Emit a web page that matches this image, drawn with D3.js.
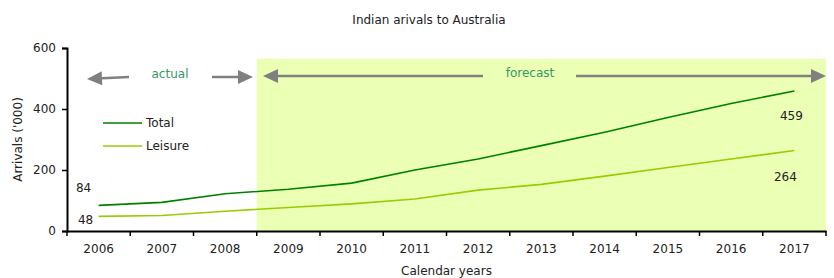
<!DOCTYPE html>
<html><head><meta charset="utf-8">
<script src="https://cdn.jsdelivr.net/npm/d3@7"></script>
<style>body{margin:0;background:#fff}svg{display:block}text{font-family:"DejaVu Sans",Verdana,sans-serif}</style>
</head><body>
<script>
const years = ["2006","2007","2008","2009","2010","2011","2012","2013","2014","2015","2016","2017"];
const totalValues = [84, 94, 122, 137, 157, 200, 236, 280, 324, 372, 418, 459];
const leisureValues = [48, 51, 65, 77, 89, 105, 134, 153, 180, 208, 236, 264];
const yTicks = [0, 200, 400, 600];
const forecastStart = "2009";

const W = 834, H = 278;
const m = {l: 67, r: 8, t: 48, b: 47};
const svg = d3.select("body").append("svg").attr("width", W).attr("height", H);

const x = d3.scaleBand().domain(years).range([m.l, W - m.r]).padding(0);
const y = d3.scaleLinear().domain([0, 600]).range([H - m.b, m.t]);

// forecast shading
const fx0 = x(forecastStart);
svg.append("rect").attr("x", fx0).attr("y", y(565)).attr("width", x.range()[1] - fx0)
  .attr("height", y(0) - y(565)).attr("fill", "#ebffb5");

// lines
const line = d3.line().x((d, i) => x(years[i]) + x.bandwidth() / 2).y(d => y(d));
svg.append("path").datum(leisureValues).attr("d", line).attr("fill", "none")
  .attr("stroke", "#99cc00").attr("stroke-width", 1.6);
svg.append("path").datum(totalValues).attr("d", line).attr("fill", "none")
  .attr("stroke", "#008000").attr("stroke-width", 1.6);

// axes
const yAxis = svg.append("g").attr("transform", `translate(${m.l},0)`)
  .call(d3.axisLeft(y).tickValues(yTicks).tickSize(5).tickPadding(6));
const xAxis = svg.append("g").attr("transform", `translate(0,${y(0)})`)
  .call(d3.axisBottom(x).tickSize(0).tickPadding(13));
[yAxis, xAxis].forEach(g => {
  g.select(".domain").attr("stroke", "#000").attr("stroke-width", 2);
  g.selectAll(".tick line").attr("stroke", "#000").attr("stroke-width", 1.5);
  g.selectAll("text").attr("font-size", 12).attr("fill", "#222").attr("font-family", "DejaVu Sans, Verdana, sans-serif");
});
// x boundary ticks
const bounds = years.map(d => x(d)).concat([x.range()[1]]);
svg.append("g").selectAll("line").data(bounds).join("line")
  .attr("x1", d => d).attr("x2", d => d).attr("y1", y(0)).attr("y2", y(0) + 5)
  .attr("stroke", "#000").attr("stroke-width", 1.5);

// title & axis labels
svg.append("text").attr("x", 429).attr("y", 24).attr("text-anchor", "middle")
  .attr("font-size", 12).attr("fill", "#222").text("Indian arivals to Australia");
svg.append("text").attr("x", (m.l + W - m.r) / 2).attr("y", 275).attr("text-anchor", "middle")
  .attr("font-size", 12).attr("fill", "#222").text("Calendar years");
svg.append("text").attr("transform", `translate(22,${(y(0) + y(600)) / 2}) rotate(-90)`)
  .attr("text-anchor", "middle").attr("font-size", 12).attr("fill", "#222").text("Arrivals ('000)");

// value labels
const cx = i => x(years[i]) + x.bandwidth() / 2;
const n = years.length - 1;
const vlab = (t, xx, yy) => svg.append("text").attr("x", xx).attr("y", yy).attr("text-anchor", "middle")
  .attr("font-size", 12).attr("fill", "#222").text(t);
vlab(totalValues[0], cx(0) - 15, y(totalValues[0]) - 13);
vlab(leisureValues[0], cx(0) - 13, y(leisureValues[0]) + 8);
vlab(totalValues[n], cx(n) - 3, y(totalValues[n]) + 29);
vlab(leisureValues[n], cx(n) - 9, y(leisureValues[n]) + 31);

// legend
const leg = [["Total", "#008000", 123], ["Leisure", "#99cc00", 146]];
leg.forEach(([t, c, yy]) => {
  svg.append("line").attr("x1", 103).attr("x2", 142).attr("y1", yy).attr("y2", yy)
    .attr("stroke", c).attr("stroke-width", 1.6);
  svg.append("text").attr("x", 146).attr("y", yy + 4).attr("font-size", 12).attr("fill", "#222").text(t);
});

// arrows
const gray = "#808080";
function arrow(x1, y1, x2, y2) { // head at (x2,y2)
  const a = Math.atan2(y2 - y1, x2 - x1), L = 15, hw = 7;
  const bx = x2 - L * Math.cos(a), by = y2 - L * Math.sin(a);
  svg.append("line").attr("x1", x1).attr("y1", y1).attr("x2", bx).attr("y2", by)
    .attr("stroke", gray).attr("stroke-width", 2.5);
  const px = -Math.sin(a) * hw, py = Math.cos(a) * hw;
  svg.append("path").attr("d", `M${x2},${y2}L${bx + px},${by + py}L${bx - px},${by - py}Z`).attr("fill", gray);
}
arrow(129, 77, 87, 79);
arrow(212, 77, 253, 77);
arrow(483, 76, 263, 76);
arrow(576, 76, 826, 76);
svg.append("text").attr("x", 170).attr("y", 78).attr("text-anchor", "middle")
  .attr("font-size", 12).attr("fill", "#339966").text("actual");
svg.append("text").attr("x", 530).attr("y", 77).attr("text-anchor", "middle")
  .attr("font-size", 12).attr("fill", "#339966").text("forecast");
</script>
</body></html>
